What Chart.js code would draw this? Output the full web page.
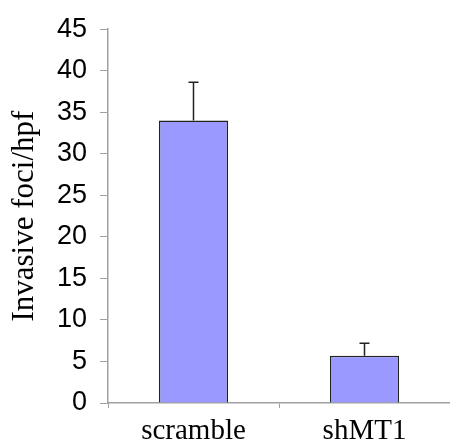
<!DOCTYPE html>
<html>
<head>
<meta charset="utf-8">
<script src="https://cdn.jsdelivr.net/npm/chart.js@4"></script>
<style>
    body { margin: 0; background: #fff; }
</style>
</head>
<body>
<canvas id="myChart" width="450" height="446"></canvas>
<script>
const categories = ["scramble", "shMT1"];
const foci = [34, 5.7];
const fociErr = [4.6, 1.5];
const yTicks = [0, 5, 10, 15, 20, 25, 30, 35, 40, 45];

// barres d'erreur (seulement vers le haut)
const errorBars = {
    id: 'errorBars',
    afterDatasetsDraw(chart) {
        const c = chart.ctx;
        const yScale = chart.scales.y;
        const meta = chart.getDatasetMeta(0);
        c.save();
        c.strokeStyle = '#222';
        c.lineWidth = 1.5;
        meta.data.forEach((bar, i) => {
            const yTop = yScale.getPixelForValue(foci[i] + fociErr[i]);
            const yBase = yScale.getPixelForValue(foci[i]);
            c.beginPath();
            c.moveTo(bar.x, yBase);
            c.lineTo(bar.x, yTop);
            c.moveTo(bar.x - 5, yTop);
            c.lineTo(bar.x + 5, yTop);
            c.stroke();
        });
        c.restore();
    }
};

let ctx = document.getElementById('myChart').getContext('2d');
let myChart = new Chart(ctx, {
    type: 'bar',
    data: {
        labels: categories,
        datasets: [{
            data: foci,
            backgroundColor: '#9999ff',
            borderColor: '#222',
            borderWidth: 1.5,
            barPercentage: 0.405,
            categoryPercentage: 1
        }]
    },
    options: {
        responsive: false,
        animation: false,
        layout: { padding: { top: 22, right: -4, left: 0, bottom: 0 } },
        plugins: {
            legend: { display: false },
            tooltip: { enabled: false }
        },
        scales: {
            x: {
                offset: true,
                grid: {
                    offset: true,
                    drawOnChartArea: false,
                    tickLength: 5,
                    color: '#a0a0a0'
                },
                border: { color: '#a0a0a0', width: 1.5 },
                ticks: {
                    padding: 6,
                    color: '#000',
                    font: { family: 'Liberation Serif', size: 29 }
                },
                afterFit(scale) { scale.height = 43; }
            },
            y: {
                min: 0,
                max: 45,
                afterBuildTicks(scale) {
                    scale.ticks = yTicks.map(v => ({ value: v }));
                },
                grid: {
                    drawOnChartArea: false,
                    tickLength: 8,
                    color: '#a0a0a0'
                },
                border: { color: '#a0a0a0', width: 1.5 },
                ticks: {
                    padding: 13,
                    color: '#000',
                    font: { family: 'Liberation Sans', size: 27 }
                },
                title: {
                    display: true,
                    text: 'Invasive foci/hpf',
                    color: '#000',
                    padding: { top: 6, bottom: 0 },
                    font: { family: 'Liberation Serif', size: 31 }
                },
                afterFit(scale) { scale.width = 108; }
            }
        }
    },
    plugins: [errorBars]
});
</script>
</body>
</html>
